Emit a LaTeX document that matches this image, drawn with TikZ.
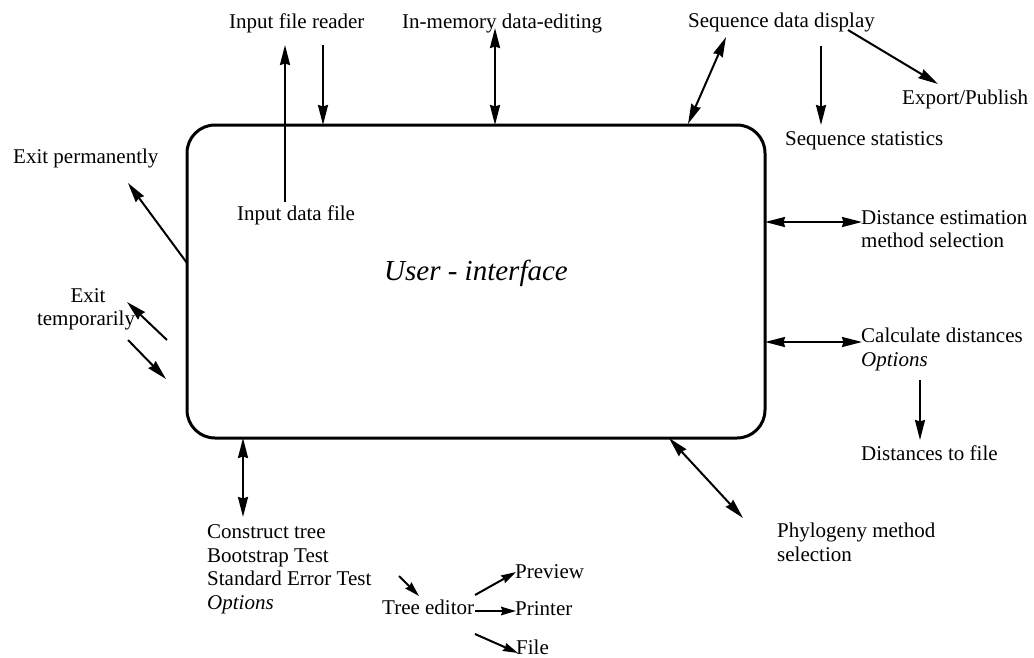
\documentclass[tikz,border=0pt]{standalone}
\usepackage{fontspec}
\setmainfont{Liberation Serif}
\usetikzlibrary{arrows.meta}
\tikzset{
  bigtip/.tip={Stealth[length=20pt,width=10pt,inset=1.5pt]},
  smalltip/.tip={Stealth[length=15pt,width=8.5pt,inset=1.5pt]}
}
\begin{document}
\begin{tikzpicture}[x=1pt,y=-1pt,
  lbl/.style={anchor=base west,inner sep=0pt,font=\fontsize{21}{24}\selectfont},
  lblc/.style={anchor=base,inner sep=0pt,font=\fontsize{21}{24}\selectfont},
  link/.style={line width=2pt,-bigtip},
  dlink/.style={line width=2pt,bigtip-bigtip},
  slink/.style={line width=2pt,-smalltip}]
\useasboundingbox (0,0) rectangle (1034,657);
\fill[white] (0,0) rectangle (1034,657);

% central box
\draw[line width=3pt,rounded corners=28pt] (187,125) rectangle (765,438);
\node[inner sep=0pt,anchor=base,font=\fontsize{29}{32}\selectfont\itshape] (ui) at (476,280) {User - interface};

% labels
\node[lbl] (ifr) at (229,28) {Input file reader};
\node[lbl] (mem) at (402,28) {In-memory data-editing};
\node[lbl] (sdd) at (688,27) {Sequence data display};
\node[lbl] (exp) at (902,104) {Export/Publish};
\node[lbl] (sst) at (785,145) {Sequence statistics};
\node[lbl] (xp) at (13,163) {Exit permanently};
\node[lbl] (idf) at (237,220) {Input data file};
\node[lblc] (xt1) at (88,302) {Exit};
\node[lblc] (xt2) at (86,325) {temporarily};
\node[lbl] (de1) at (861,224) {Distance estimation};
\node[lbl] (de2) at (861,247) {method selection};
\node[lbl] (cd1) at (861,342) {Calculate distances};
\node[lbl] (cd2) at (861,366) {\itshape Options};
\node[lbl] (dtf) at (861,460) {Distances to file};
\node[lbl] (ct1) at (207,538) {Construct tree};
\node[lbl] (ct2) at (207,562) {Bootstrap Test};
\node[lbl] (ct3) at (207,585) {Standard Error Test};
\node[lbl] (ct4) at (207,609) {\itshape Options};
\node[lbl] (ted) at (382,614) {Tree editor};
\node[lbl] (pv) at (515,578) {Preview};
\node[lbl] (pr) at (515,615) {Printer};
\node[lbl] (fl) at (516,654) {File};
\node[lbl] (ph1) at (777,537) {Phylogeny method};
\node[lbl] (ph2) at (777,561) {selection};

% connector end points
\coordinate (a1s) at (285,202); \coordinate (a1e) at (285,45);
\coordinate (a2s) at (323,45);  \coordinate (a2e) at (323,125);
\coordinate (a3s) at (495,28);  \coordinate (a3e) at (495,125);
\coordinate (a4s) at (688,124); \coordinate (a4e) at (726,37);
\coordinate (a5s) at (821,46);  \coordinate (a5e) at (821,125);
\coordinate (a6s) at (848,30);  \coordinate (a6e) at (938,84);
\coordinate (a7s) at (187,263); \coordinate (a7e) at (128,183);
\coordinate (a8s) at (167,340); \coordinate (a8e) at (127,302);
\coordinate (a9s) at (128,340); \coordinate (a9e) at (166,379);
\coordinate (b1s) at (765,222); \coordinate (b1e) at (862,222);
\coordinate (b2s) at (765,342); \coordinate (b2e) at (862,342);
\coordinate (b3s) at (920,380); \coordinate (b3e) at (920,440);
\coordinate (b4s) at (243,438); \coordinate (b4e) at (243,517);
\coordinate (b5s) at (399,576); \coordinate (b5e) at (419,596);
\coordinate (b6s) at (475,595); \coordinate (b6e) at (516,572);
\coordinate (b7s) at (475,611); \coordinate (b7e) at (516,611);
\coordinate (b8s) at (475,634); \coordinate (b8e) at (518,653);
\coordinate (b9s) at (669,438); \coordinate (b9e) at (743,518);

% connectors
\draw[link] (a1s) -- (a1e);
\draw[link] (a2s) -- (a2e);
\draw[dlink] (a3s) -- (a3e);
\draw[dlink] (a4s) -- (a4e);
\draw[link] (a5s) -- (a5e);
\draw[link] (a6s) -- (a6e);
\draw[link] (a7s) -- (a7e);
\draw[link] (a8s) -- (a8e);
\draw[link] (a9s) -- (a9e);
\draw[dlink] (b1s) -- (b1e);
\draw[dlink] (b2s) -- (b2e);
\draw[link] (b3s) -- (b3e);
\draw[dlink] (b4s) -- (b4e);
\draw[slink] (b5s) -- (b5e);
\draw[slink] (b6s) -- (b6e);
\draw[slink] (b7s) -- (b7e);
\draw[slink] (b8s) -- (b8e);
\draw[dlink] (b9s) -- (b9e);
\end{tikzpicture}
\end{document}
